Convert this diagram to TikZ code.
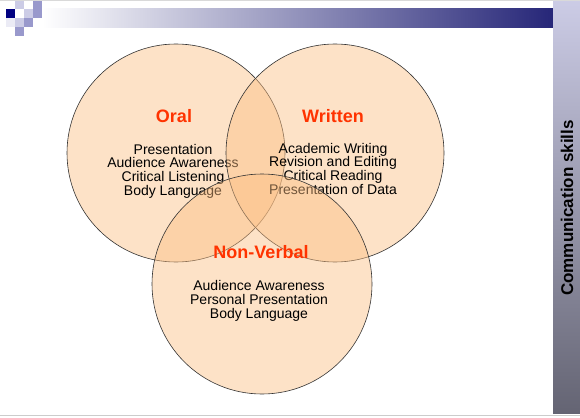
\documentclass[tikz,border=0pt]{standalone}
\usepackage{fontspec}
\setmainfont{Liberation Sans}
\definecolor{peach}{RGB}{251,190,130}
\definecolor{titlered}{RGB}{255,51,0}
\definecolor{navy}{RGB}{0,0,128}
\definecolor{barnavy}{RGB}{38,38,120}
\definecolor{lilac}{RGB}{204,204,230}
\definecolor{lilacmid}{RGB}{153,153,204}
\definecolor{sidegrey}{RGB}{100,100,115}
\tikzset{
  ring/.style={circle,draw=black!80,line width=.6pt,fill=peach,fill opacity=.45,
    minimum size=218pt,inner sep=0pt},
  head/.style={text=titlered,font=\fontsize{18}{18}\selectfont\bfseries},
  items/.style={align=center,inner sep=0pt,font=\fontsize{14}{13.6}\selectfont},
  tile/.style={minimum size=9pt,inner sep=0pt,anchor=north west}
}
\begin{document}
\begin{tikzpicture}[x=1pt,y=-1pt]
\useasboundingbox (0,0) rectangle (580,417);
% header band
\foreach \c/\r/\col in {1/0/lilac,3/0/lilacmid,0/1/navy,2/1/lilac,3/1/lilacmid,
    0/2/lilac!40,1/2/lilac,2/2/lilacmid,1/3/lilacmid}
  \node[tile,fill=\col] (t\c\r) at (6+9*\c,9*\r) {};
\shade[left color=white,right color=barnavy] (42,9) rectangle (553,28);
\shade[top color=lilac,bottom color=sidegrey] (553,0) rectangle (580,413);
\draw[black!15,line width=1pt] (0,.5) -- (580,.5);
\draw[black!20,line width=1.5pt] (0,415.5) -- (580,415.5);
\node[rotate=90,font=\fontsize{17}{17}\selectfont\bfseries] (side) at (567,208) {Communication skills};
% venn
\node[ring] (oral) at (176,153) {};
\node[head] (oralhead) at (174,116.5) {Oral};
\node[items,anchor=base] (oraltext) at (173,195)
  {Presentation\\Audience Awareness\\Critical Listening\\Body Language};
\node[ring] (written) at (335,153) {};
\node[head] (writtenhead) at (333,116.5) {Written};
\node[items,anchor=base] (writtentext) at (333,194)
  {Academic Writing\\Revision and Editing\\Critical Reading\\Presentation of Data};
\node[ring,minimum size=220pt] (nonverbal) at (262,284) {};
\node[head] (nvhead) at (261,252) {Non-Verbal};
\node[items,anchor=base] (nvtext) at (259,318)
  {Audience Awareness\\Personal Presentation\\Body Language};
\end{tikzpicture}
\end{document}
